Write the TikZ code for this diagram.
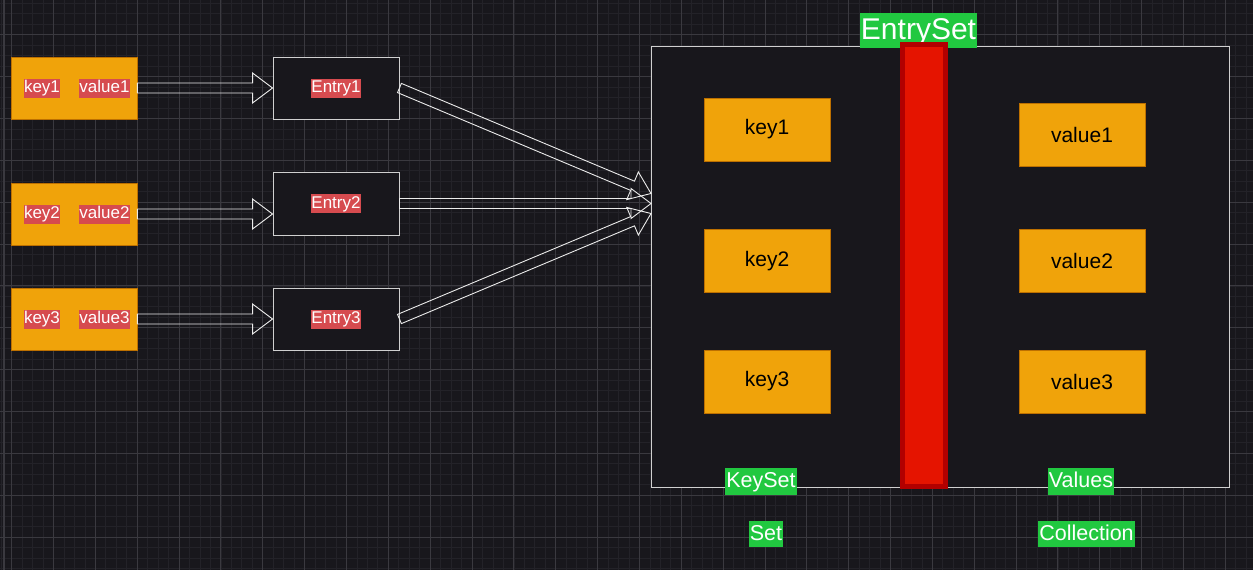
\documentclass[tikz,border=0pt]{standalone}
\usepackage{fontspec}
\setmainfont{Liberation Sans}
\usetikzlibrary{calc}
\definecolor{bgc}{HTML}{18171C}
\definecolor{minorc}{HTML}{232228}
\definecolor{majorc}{HTML}{3A393F}
\definecolor{orangef}{HTML}{F0A30A}
\definecolor{oranged}{HTML}{BD7000}
\definecolor{redlab}{HTML}{D64B4F}
\definecolor{greenlab}{HTML}{21C840}
\definecolor{barfill}{HTML}{E51400}
\definecolor{barline}{HTML}{B20000}
\definecolor{boxline}{HTML}{D0D0D0}
\tikzset{
  minorgrid/.style={draw=minorc, line width=0.8pt},
  majorgrid/.style={draw=majorc, line width=1pt},
  kvbox/.style={draw=oranged, fill=orangef, line width=0.8pt, minimum width=126pt, minimum height=62pt, inner sep=0pt},
  setbox/.style={draw=oranged, fill=orangef, line width=0.8pt, minimum width=126pt, minimum height=63pt, inner sep=0pt, font=\fontsize{21pt}{24pt}\selectfont, text=black},
  entrybox/.style={draw=boxline, fill=bgc, line width=0.9pt, minimum width=126pt, minimum height=62pt, inner sep=0pt},
  redlabel/.style={fill=redlab, text=white, font=\fontsize{17pt}{20pt}\selectfont, inner xsep=0.5pt, inner ysep=1pt, text height=13pt, text depth=4pt},
  greenlabel/.style={fill=greenlab, text=white, font=\fontsize{21.5pt}{25pt}\selectfont, inner xsep=1pt, inner ysep=1pt, text height=18.5pt, text depth=6pt},
  flex/.style={draw=white!92!black, line width=0.9pt, line join=miter},
}
\newcommand{\flexarrow}[2]{%
  \path (#1) coordinate (fa-a) (#2) coordinate (fa-b);
  \path ($(fa-b)!20pt!(fa-a)$) coordinate (fa-h);
  \draw[flex] ($(fa-a)!5pt!90:(fa-b)$) -- ($(fa-h)!5pt!90:(fa-b)$) -- ($(fa-h)!15pt!90:(fa-b)$) -- (fa-b)
     -- ($(fa-h)!15pt!-90:(fa-b)$) -- ($(fa-h)!5pt!-90:(fa-b)$) -- ($(fa-a)!5pt!-90:(fa-b)$) -- cycle;
}
\begin{document}
\begin{tikzpicture}[x=1pt,y=-1pt]
\fill[bgc] (0,0) rectangle (1253,570);
\useasboundingbox (0,0) rectangle (1253,570);
% grid
\foreach \i in {0,...,124} {
  \pgfmathsetmacro\xx{11.7+(\i-4)*10.4625}
  \draw[minorgrid] (\xx,0) -- (\xx,570);
}
\foreach \j in {0,...,58} {
  \pgfmathsetmacro\yy{34.8+(\j-4)*10.4625}
  \draw[minorgrid] (0,\yy) -- (1253,\yy);
}
\foreach \i in {0,...,31} {
  \pgfmathsetmacro\xx{11.7+(\i-1)*41.85}
  \draw[majorgrid] (\xx,0) -- (\xx,570);
}
\foreach \j in {0,...,14} {
  \pgfmathsetmacro\yy{34.8+(\j-1)*41.85}
  \draw[majorgrid] (0,\yy) -- (1253,\yy);
}
\draw[draw=majorc, line width=2pt] (3.5,0) -- (3.5,570);

% left key/value boxes
\node[kvbox] (kv1) at (74,88) {};
\node[kvbox] (kv2) at (74,214) {};
\node[kvbox] (kv3) at (74,319) {};
\node[redlabel] (k1) at (42,88) {key1};
\node[redlabel] (v1) at (104.5,88) {value1};
\node[redlabel] (k2) at (42,214) {key2};
\node[redlabel] (v2) at (104.5,214) {value2};
\node[redlabel] (k3) at (42,319) {key3};
\node[redlabel] (v3) at (104.5,319) {value3};

% entry boxes
\node[entrybox] (e1) at (336,88) {};
\node[entrybox, minimum height=63pt] (e2) at (336,203.5) {};
\node[entrybox] (e3) at (336,319) {};
\node[redlabel] (e1l) at (336,88) {Entry1};
\node[redlabel] (e2l) at (336,203.5) {Entry2};
\node[redlabel] (e3l) at (336,319) {Entry3};

% big box
\node[draw=boxline, fill=bgc, line width=0.9pt, minimum width=578pt, minimum height=441pt, inner sep=0pt] (big) at (940,266.5) {};
\coordinate (t1) at (651,193.5);
\coordinate (t2) at (651,203.5);
\coordinate (t3) at (651,213.5);

% set boxes
\node[setbox] (sk1) at (767,129.5) {key1};
\node[setbox] (sk2) at (767,261) {key2};
\node[setbox] (sk3) at (767,381.5) {key3};
\node[setbox] (sv1) at (1082,135) {value1};
\node[setbox] (sv2) at (1082,261) {value2};
\node[setbox] (sv3) at (1082,381.5) {value3};

% EntrySet label and red bar
\node[greenlabel, font=\fontsize{30pt}{36pt}\selectfont, text height=26pt, text depth=7.5pt, inner ysep=0.5pt, inner xsep=1pt] (es) at (918.5,30.5) {EntrySet};
\node[draw=barline, fill=barfill, line width=5pt, minimum width=43pt, minimum height=442pt, inner sep=0pt] (bar) at (924,265.5) {};

% bottom labels
\node[greenlabel] (ks) at (761,481.5) {KeySet};
\node[greenlabel] (vs) at (1081,481.5) {Values};
\node[greenlabel] (st) at (766,534) {Set};
\node[greenlabel] (co) at (1086.5,534) {Collection};

% arrows
\flexarrow{kv1.east}{kv1.east -| e1.west}
\flexarrow{kv2.east}{kv2.east -| e2.west}
\flexarrow{kv3.east}{kv3.east -| e3.west}
\flexarrow{e1.east}{t1}
\flexarrow{e2.east}{t2}
\flexarrow{e3.east}{t3}
\end{tikzpicture}
\end{document}
